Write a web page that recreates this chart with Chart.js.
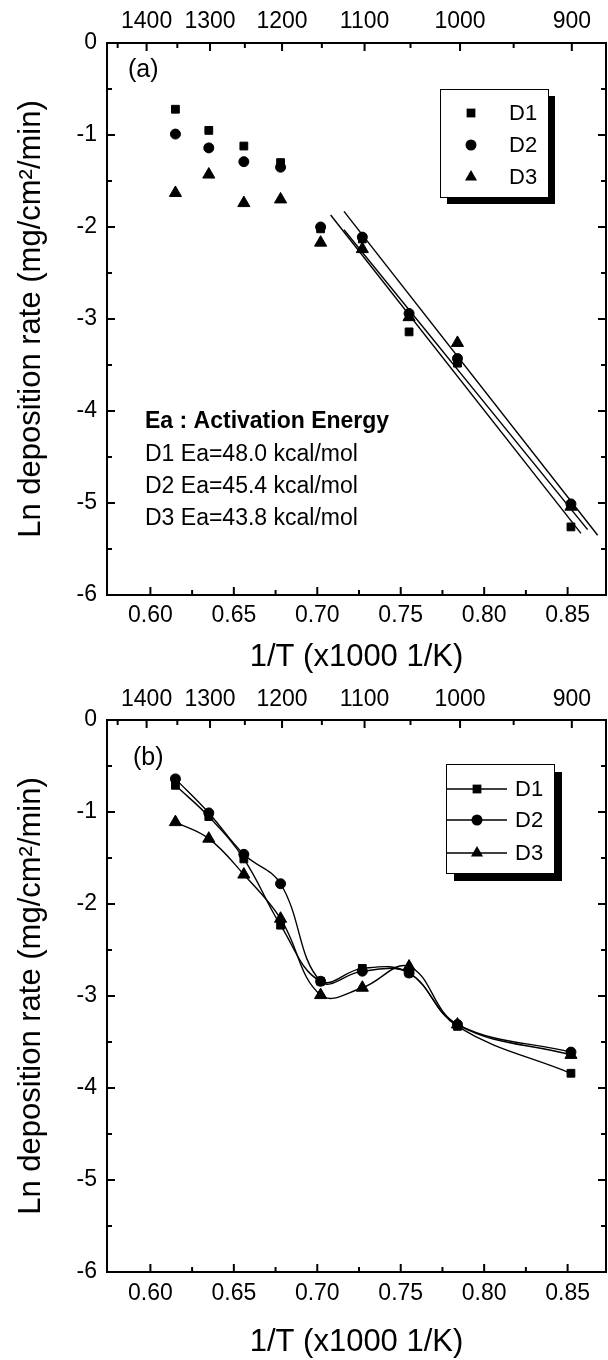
<!DOCTYPE html>
<html>
<head>
<meta charset="utf-8">
<script src="https://cdn.jsdelivr.net/npm/chart.js@4.4.1/dist/chart.umd.min.js"></script>
<style>
  html, body { margin: 0; padding: 0; background: #fff; }
  body { width: 608px; height: 1360px; overflow: hidden; position: relative; }
  canvas { position: absolute; left: 0; }
  #chartA { top: 0; }
  #chartB { top: 680px; }
</style>
</head>
<body>
<canvas id="chartA" width="614" height="690"></canvas>
<canvas id="chartB" width="614" height="700"></canvas>
<script>
// ===== data =====

// 1/T (x1000 1/K) of the nine runs, 1350 .. 900 C
const invT = [0.615, 0.635, 0.656, 0.678, 0.702, 0.727, 0.755, 0.784, 0.852];

// (a) ln deposition rate
const rateA1 = [-0.72, -0.95, -1.12, -1.30, -2.02, -2.13, -3.14, -3.48, -5.26];
const rateA2 = [-0.99, -1.14, -1.29, -1.35, -2.00, -2.11, -2.94, -3.43, -5.01];
const rateA3 = [-1.63, -1.43, -1.74, -1.70, -2.17, -2.24, -2.98, -3.26, -5.04];

// (a) fitted Arrhenius lines, start / end
const fitX1 = [0.708, 0.858];
const fitY1 = [-1.87, -5.33];
const fitX2 = [0.716, 0.868];
const fitY2 = [-1.83, -5.35];
const fitX3 = [0.716, 0.862];
const fitY3 = [-2.03, -5.29];

// (b) ln deposition rate
const rateB1 = [-0.71, -1.05, -1.51, -2.23, -2.84, -2.70, -2.75, -3.33, -3.84];
const rateB2 = [-0.64, -1.01, -1.46, -1.78, -2.84, -2.73, -2.75, -3.31, -3.61];
const rateB3 = [-1.11, -1.29, -1.68, -2.16, -2.99, -2.91, -2.68, -3.31, -3.64];

const names = ["D1", "D2", "D3"];
const markers = ["rect", "circle", "triangle"];
const notes = ["D1 Ea=48.0 kcal/mol", "D2 Ea=45.4 kcal/mol", "D3 Ea=43.8 kcal/mol"];

// axes
const xMin = 0.574, xMax = 0.873;
const yMin = -6, yMax = 0;
const xMajor = [0.6, 0.65, 0.7, 0.75, 0.8, 0.85];
const xMinor = [0.625, 0.675, 0.725, 0.775, 0.825];
const tempMajor = [1400, 1300, 1200, 1100, 1000, 900];
const tempMinor = [1450, 1350, 1250, 1150, 1050, 950];
const yMajor = [0, -1, -2, -3, -4, -5, -6];
const yMinor = [-0.5, -1.5, -2.5, -3.5, -4.5, -5.5];

// ===== helpers =====

const FAMILY = "'Liberation Sans', Arial, Helvetica, sans-serif";
Chart.defaults.font.family = FAMILY;
Chart.defaults.color = "#000";

const pts = (xs, ys) => xs.map((x, i) => ({ x: x, y: ys[i] }));
const toInv = t => 1000 / (t + 273);
const radius = { rect: 5.5, circle: 5, triangle: 7 };

function shape(ctx, style, x, y, r) {
  ctx.beginPath();
  if (style === "rect") {
    const s = r * Math.SQRT1_2 + 0.5;
    ctx.rect(x - s, y - s, 2 * s, 2 * s);
  } else if (style === "circle") {
    ctx.arc(x, y, r + 0.5, 0, Math.PI * 2);
  } else {
    ctx.moveTo(x, y - r);
    ctx.lineTo(x + r * 0.866, y + r / 2);
    ctx.lineTo(x - r * 0.866, y + r / 2);
    ctx.closePath();
  }
  ctx.fill();
}

// inward tick marks, legend box, notes
const frame = {
  id: "frame",
  afterDraw(chart, args, o) {
    const ctx = chart.ctx;
    const { left, right, top, bottom } = chart.chartArea;
    const sx = chart.scales.x, sy = chart.scales.y;
    ctx.save();
    ctx.strokeStyle = "#000";
    ctx.fillStyle = "#000";
    ctx.lineWidth = 2;
    ctx.beginPath();
    const vx = (vals, len) => vals.forEach(v => {
      const p = sx.getPixelForValue(v);
      ctx.moveTo(p, bottom); ctx.lineTo(p, bottom - len);
    });
    const vt = (vals, len) => vals.forEach(t => {
      const p = sx.getPixelForValue(toInv(t));
      ctx.moveTo(p, top); ctx.lineTo(p, top + len);
    });
    const hy = (vals, len) => vals.forEach(v => {
      const p = sy.getPixelForValue(v);
      ctx.moveTo(left, p); ctx.lineTo(left + len, p);
      ctx.moveTo(right, p); ctx.lineTo(right - len, p);
    });
    vx(xMajor, 8); vx(xMinor, 5);
    vt(tempMajor, 8); vt(tempMinor, 5);
    hy(yMajor, 8); hy(yMinor, 5);
    ctx.stroke();

    // panel label
    ctx.font = "25px " + FAMILY;
    ctx.textBaseline = "middle";
    ctx.textAlign = "left";
    ctx.fillText(o.tag, o.tagX, o.tagY);

    // legend box with drop shadow
    const L = o.legend;
    ctx.fillRect(L.x + L.shadow, L.y + L.shadow, L.w, L.h);
    ctx.fillStyle = "#fff";
    ctx.fillRect(L.x, L.y, L.w, L.h);
    ctx.lineWidth = 1;
    ctx.strokeRect(L.x + 0.5, L.y + 0.5, L.w, L.h);
    ctx.fillStyle = "#000";
    ctx.font = "22px " + FAMILY;
    names.forEach((n, i) => {
      const ry = L.rows[i];
      if (L.line) {
        ctx.lineWidth = 1.5;
        ctx.beginPath();
        ctx.moveTo(L.line[0], ry); ctx.lineTo(L.line[1], ry);
        ctx.stroke();
      }
      shape(ctx, markers[i], L.markX, ry, radius[markers[i]]);
      ctx.fillText(n, L.textX, ry + 1);
    });

    // notes
    if (o.notes) {
      ctx.font = "bold 23px " + FAMILY;
      ctx.fillText("Ea : Activation Energy", o.notes.x, o.notes.rows[0]);
      ctx.font = "23px " + FAMILY;
      notes.forEach((t, i) => ctx.fillText(t, o.notes.x, o.notes.rows[i + 1]));
    }
    ctx.restore();
  }
};

function axes(canvasH, top, bottom, pad) {
  const tickFont = { size: 23 };
  const titleFont = { size: 31, lineHeight: 1 };
  const hidden = { display: false, drawTicks: false };
  const edge = { display: true, color: "#000", width: 2 };
  return {
    x: {
      type: "linear", position: "bottom", min: xMin, max: xMax,
      afterBuildTicks: s => { s.ticks = xMajor.map(v => ({ value: v })); },
      afterFit: s => { s.height = canvasH - bottom; },
      ticks: { font: tickFont, padding: pad.xb, maxRotation: 0, autoSkip: false,
               callback: v => Number(v).toFixed(2) },
      grid: hidden, border: edge,
      title: { display: true, text: "1/T (x1000 1/K)", font: titleFont,
               padding: { top: 0, bottom: pad.title } }
    },
    x2: {
      type: "linear", position: "top", min: xMin, max: xMax,
      afterBuildTicks: s => { s.ticks = tempMajor.map(t => ({ value: toInv(t) })); },
      afterFit: s => { s.height = top; },
      ticks: { font: tickFont, padding: pad.xt, maxRotation: 0, autoSkip: false,
               callback: (v, i) => String(tempMajor[i]) },
      grid: hidden, border: edge
    },
    y: {
      type: "linear", position: "left", min: yMin, max: yMax,
      afterBuildTicks: s => { s.ticks = yMajor.map(v => ({ value: v })); },
      afterFit: s => { s.width = 107; },
      ticks: { font: tickFont, padding: 10, callback: v => String(v) },
      grid: hidden, border: edge,
      title: { display: true, text: "Ln deposition rate (mg/cm\u00b2/min)",
               font: titleFont, padding: { top: 16, bottom: 0 } }
    },
    y2: {
      type: "linear", position: "right", min: yMin, max: yMax,
      afterFit: s => { s.width = 4; },
      ticks: { display: false },
      grid: hidden, border: edge
    }
  };
}

const marks = (style, data) => ({
  data: data,
  showLine: false,
  pointStyle: style,
  pointRadius: radius[style],
  backgroundColor: "#000",
  borderColor: "#000",
  borderWidth: 1
});

const fit = data => ({
  data: data,
  showLine: true,
  pointRadius: 0,
  borderColor: "#000",
  borderWidth: 1.4
});

const curve = (style, data) => ({
  data: data,
  pointStyle: style,
  pointRadius: radius[style],
  backgroundColor: "#000",
  borderColor: "#000",
  borderWidth: 1.4,
  pointBorderWidth: 1,
  tension: 0.4
});

const common = {
  responsive: false,
  devicePixelRatio: 1,
  animation: false,
  events: [],
  layout: { padding: 0 }
};

// ===== (a) =====
new Chart(document.getElementById("chartA").getContext("2d"), {
  type: "scatter",
  data: {
    datasets: [
      fit(pts(fitX1, fitY1)),
      fit(pts(fitX2, fitY2)),
      fit(pts(fitX3, fitY3)),
      marks("triangle", pts(invT, rateA3)),
      marks("circle", pts(invT, rateA2)),
      marks("rect", pts(invT, rateA1))
    ]
  },
  options: Object.assign({}, common, {
    scales: axes(690, 43, 595, { xb: 7, xt: 8, title: 17 }),
    plugins: {
      legend: { display: false },
      tooltip: { enabled: false },
      frame: {
        tag: "(a)", tagX: 128, tagY: 70,
        legend: { x: 440, y: 89, w: 108, h: 108, shadow: 7,
                  rows: [113, 145, 177], markX: 471, textX: 509, line: null },
        notes: { x: 145, rows: [422, 455, 487, 519] }
      }
    }
  }),
  plugins: [frame]
});

// ===== (b) =====
new Chart(document.getElementById("chartB").getContext("2d"), {
  type: "line",
  data: {
    datasets: [
      curve("triangle", pts(invT, rateB3)),
      curve("circle", pts(invT, rateB2)),
      curve("rect", pts(invT, rateB1))
    ]
  },
  options: Object.assign({}, common, {
    scales: axes(700, 40, 592, { xb: 8, xt: 7, title: 22 }),
    plugins: {
      legend: { display: false },
      tooltip: { enabled: false },
      frame: {
        tag: "(b)", tagX: 133, tagY: 78,
        legend: { x: 446, y: 84, w: 108, h: 109, shadow: 8,
                  rows: [109, 140, 173], markX: 477, textX: 515, line: [446, 507] },
        notes: null
      }
    }
  }),
  plugins: [frame]
});
</script>
</body>
</html>
